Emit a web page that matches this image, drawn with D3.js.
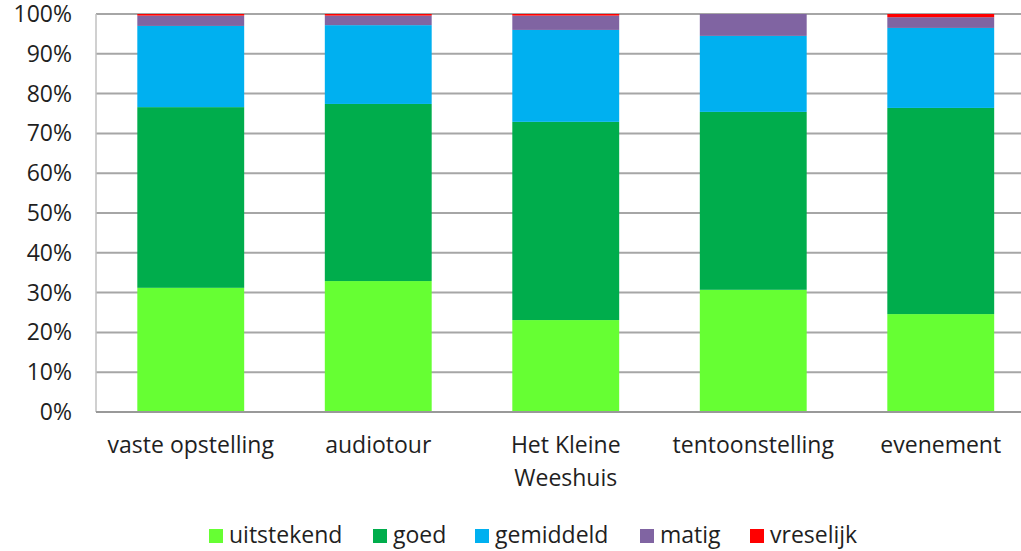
<!DOCTYPE html>
<html><head><meta charset="utf-8">
<script src="https://cdn.jsdelivr.net/npm/d3@7"></script>
<style>body{margin:0;background:#fff}svg{display:block}text{font-family:"Open Sans",sans-serif;fill:#1f1f1f}</style>
</head><body><svg id="c" width="1021" height="551"></svg>
<script>
const categories = ["vaste opstelling","audiotour","Het Kleine Weeshuis","tentoonstelling","evenement"];
const categoryLines = [["vaste opstelling"],["audiotour"],["Het Kleine","Weeshuis"],["tentoonstelling"],["evenement"]];
const seriesNames = ["uitstekend","goed","gemiddeld","matig","vreselijk"];
const seriesColors = ["#66ff33","#00ad4c","#00b0f0","#8064a2","#ff0000"];
const uitstekend = [31.2, 32.9, 23.1, 30.7, 24.6];
const goed       = [45.4, 44.5, 49.8, 44.7, 51.8];
const gemiddeld  = [20.4, 19.8, 23.1, 19.1, 20.1];
const matig      = [2.6, 2.4, 3.6, 5.5, 2.7];
const vreselijk  = [0.4, 0.4, 0.4, 0.0, 0.8];
const yTicks = [0,10,20,30,40,50,60,70,80,90,100];

const seriesValues = [uitstekend, goed, gemiddeld, matig, vreselijk];
const rows = categories.map((c,i)=>{const r={cat:c}; seriesNames.forEach((s,j)=>r[s]=seriesValues[j][i]); return r;});
const stack = d3.stack().keys(seriesNames)(rows);

const svg = d3.select("#c");
const pLeft=96, pTop=14, pBottom=412, bandW=187.5, fs=23;
const x = d3.scaleBand().domain(categories).range([pLeft+1, pLeft+1+bandW*categories.length]).paddingInner(0.43).paddingOuter(0.215);
const y = d3.scaleLinear().domain([0,100]).range([pBottom, pTop]);

// gridlines
svg.append("g").selectAll("line").data(yTicks).join("line")
  .attr("x1", pLeft).attr("x2", 1021).attr("y1", d=>y(d)).attr("y2", d=>y(d))
  .attr("stroke", "#a6a6a6").attr("stroke-width", 2);
// left axis line
svg.append("line").attr("x1",pLeft).attr("x2",pLeft).attr("y1",pTop).attr("y2",pBottom).attr("stroke","#c0c0c0").attr("stroke-width",1.5);
// y labels
const yAxis = d3.axisLeft(y).tickValues(yTicks).tickFormat(d=>d+"%").tickSize(0).tickPadding(24);
const ga = svg.append("g").attr("transform",`translate(${pLeft},0)`).call(yAxis);
ga.select(".domain").remove();
ga.selectAll("text").attr("font-size",fs).attr("fill","#1f1f1f").attr("dy","0.33em").style("font-family",'"Open Sans",sans-serif');

// bars
svg.append("g").selectAll("g").data(stack).join("g")
  .attr("fill",(d,i)=>seriesColors[i])
  .selectAll("rect").data(d=>d).join("rect")
  .attr("x", d=>x(d.data.cat)).attr("width", x.bandwidth())
  .attr("y", d=>y(d[1])).attr("height", d=>Math.max(0,y(d[0])-y(d[1])));

// bottom axis line
svg.append("line").attr("x1",pLeft).attr("x2",1021).attr("y1",pBottom).attr("y2",pBottom).attr("stroke","#999").attr("stroke-width",2);

// category labels
const gl = svg.append("g");
categories.forEach((c,i)=>{
  const cx = x(c)+x.bandwidth()/2;
  const t = gl.append("text").attr("x", cx).attr("y", 453).attr("text-anchor","middle").attr("font-size",fs);
  categoryLines[i].forEach((ln,k)=>t.append("tspan").attr("x", cx).attr("dy", k===0?0:33).text(ln));
});

// legend
const legX = [209, 373, 475, 640, 750];
const lg = svg.append("g");
seriesNames.forEach((s,i)=>{
  lg.append("rect").attr("x",legX[i]).attr("y",529).attr("width",14).attr("height",14).attr("fill",seriesColors[i]);
  lg.append("text").attr("x",legX[i]+20).attr("y",543).attr("font-size",fs).text(s);
});
</script></body></html>
